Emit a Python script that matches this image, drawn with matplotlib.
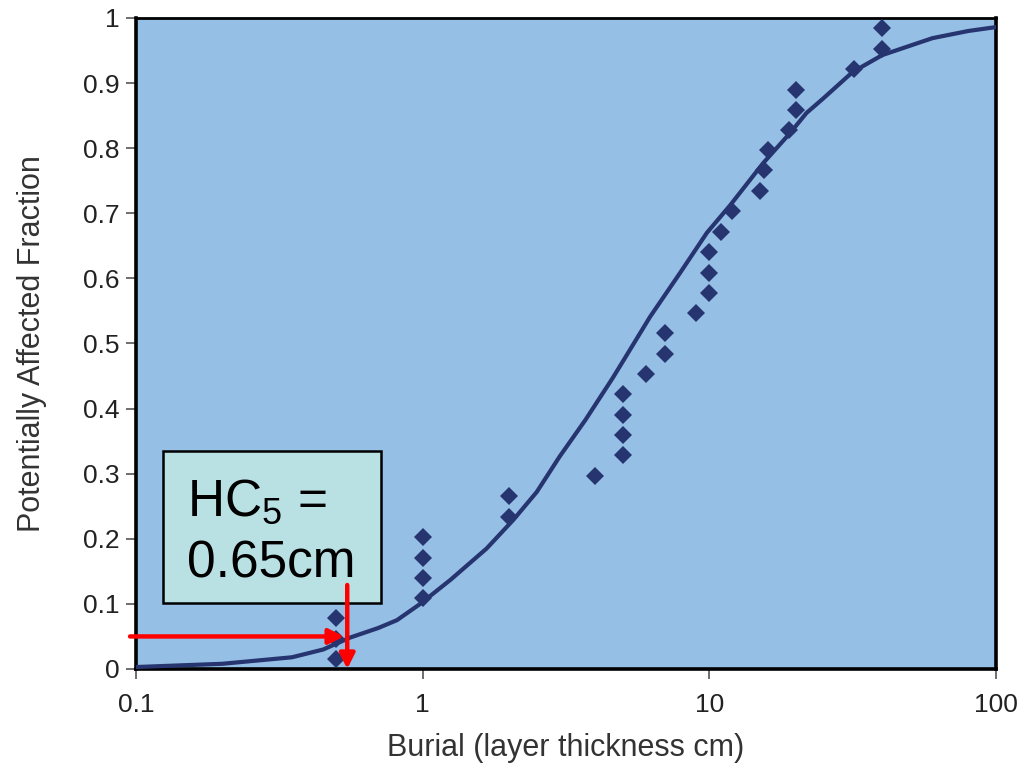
import matplotlib
matplotlib.use("Agg")
import matplotlib.pyplot as plt
from matplotlib.patches import Rectangle

plt.rcParams['font.family'] = ['Liberation Sans', 'DejaVu Sans']
plt.rcParams['mathtext.fontset'] = 'custom'
plt.rcParams['mathtext.rm'] = 'Liberation Sans'
plt.rcParams['mathtext.it'] = 'Liberation Sans'
plt.rcParams['mathtext.default'] = 'regular'

# Observed species sensitivities (burial thickness, cm) and plotting fraction
obs_x = [0.5, 0.5, 0.5, 1, 1, 1, 1, 2, 2, 4, 5, 5, 5, 5, 6, 7, 7, 9,
         10, 10, 10, 11, 12, 15, 15.5, 16, 19, 20, 20, 32, 40, 40]
obs_y = [0.015, 0.046, 0.078, 0.109, 0.140, 0.171, 0.203, 0.234, 0.266,
         0.297, 0.328, 0.359, 0.390, 0.422, 0.453, 0.484, 0.516, 0.547,
         0.578, 0.609, 0.640, 0.672, 0.703, 0.734, 0.766, 0.797, 0.828,
         0.859, 0.890, 0.922, 0.953, 0.984]

# Fitted SSD curve
fit_x = [0.1, 0.2, 0.35, 0.45, 0.556, 0.7, 0.813, 0.98, 1.25, 1.67, 2.07,
         2.5, 3.0, 3.7, 4.6, 5.0, 6.21, 7.89, 9.8, 11.8, 15.4, 19.1, 21.8,
         24.9, 31.6, 40.1, 60, 80, 100]
fit_y = [0.003, 0.008, 0.018, 0.030, 0.048, 0.063, 0.075, 0.100, 0.137,
         0.185, 0.229, 0.272, 0.326, 0.383, 0.447, 0.473, 0.541, 0.608,
         0.670, 0.712, 0.777, 0.823, 0.854, 0.876, 0.917, 0.943, 0.969,
         0.980, 0.986]

xticks = [0.1, 1, 10, 100]
xticklabels = ['0.1', '1', '10', '100']
yticks = [0, 0.1, 0.2, 0.3, 0.4, 0.5, 0.6, 0.7, 0.8, 0.9, 1]
yticklabels = ['0', '0.1', '0.2', '0.3', '0.4', '0.5', '0.6', '0.7', '0.8', '0.9', '1']

hc5_fraction = 0.05
hc5_value = 0.54

fig = plt.figure(figsize=(10.29, 7.71), dpi=100)
ax = fig.add_axes([0.1322, 0.1323, 0.8358, 0.8444])
ax.set_facecolor('#95BFE5')

ax.plot(fit_x, fit_y, color='#263470', lw=3.0, solid_capstyle='round',
        solid_joinstyle='round', zorder=3)
ax.plot(obs_x, obs_y, linestyle='none', marker='D', markersize=9,
        color='#263470', markeredgewidth=0, zorder=4)

ax.set_xscale('log')
ax.set_xlim(0.1, 100)
ax.set_ylim(0, 1)
ax.set_xticks(xticks)
ax.set_xticklabels(xticklabels)
ax.minorticks_off()
ax.set_yticks(yticks)
ax.set_yticklabels(yticklabels)
ax.tick_params(axis='both', direction='out', length=7, width=1.2,
               color='#555555', labelsize=19, labelcolor='#222222')
ax.tick_params(axis='y', pad=5)
ax.tick_params(axis='x', pad=10)

for s in ['left', 'bottom', 'right', 'top']:
    ax.spines[s].set_linewidth(2.6)
    ax.spines[s].set_color('black')
ax.spines['top'].set_linewidth(2.0)

ax.set_xlabel('Burial (layer thickness cm)', fontsize=22, color='#333333', labelpad=12)
ax.set_ylabel('Potentially Affected Fraction', fontsize=22, color='#333333', labelpad=26)

# HC5 box
box = Rectangle((0.0314, 0.101), 0.2535, 0.234, transform=ax.transAxes,
                facecolor='#B9E0E3', edgecolor='black', lw=1.8, zorder=5)
ax.add_patch(box)
ax.text(0.0595, 0.236, r'HC$_5$ =', transform=ax.transAxes, fontsize=37,
        va='baseline', ha='left', zorder=6)
ax.text(0.0595, 0.140, '0.65cm', transform=ax.transAxes, fontsize=37,
        va='baseline', ha='left', zorder=6)

# Red arrows
ax.annotate('', xy=(hc5_value * 0.985, hc5_fraction), xytext=(0.0953, hc5_fraction),
            arrowprops=dict(arrowstyle='-|>,head_length=0.9,head_width=0.45',
                            color='#FF0000', lw=3.2, shrinkA=0, shrinkB=0),
            annotation_clip=False, zorder=7)
ax.annotate('', xy=(hc5_value * 1.01, 0.0), xytext=(hc5_value * 1.01, 0.129),
            arrowprops=dict(arrowstyle='-|>,head_length=0.9,head_width=0.45',
                            color='#FF0000', lw=3.2, shrinkA=0, shrinkB=0),
            annotation_clip=False, zorder=7)

fig.savefig('out.png', dpi=100)
